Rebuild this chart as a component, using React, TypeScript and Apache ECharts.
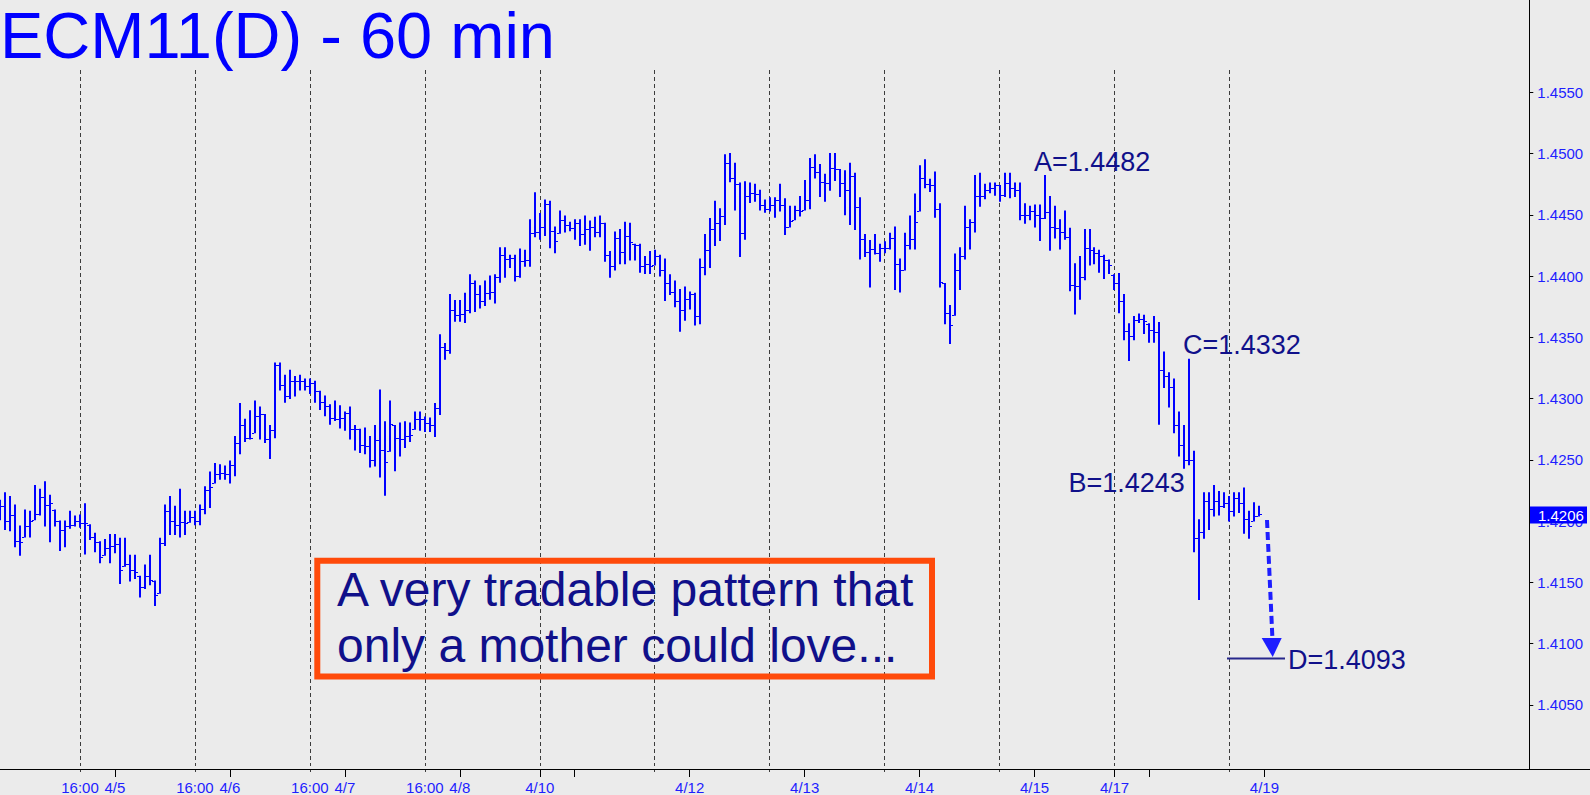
import React, { useEffect, useRef } from "react";
import * as echarts from "echarts";

// ---- data (hourly OHLC bars, ECM11 60 min) ----
const opens = [
  1.4210, 1.4212, 1.4200, 1.4205, 1.4184, 1.4187, 1.4196, 1.4201, 1.4206, 1.4220,
  1.4213, 1.4209, 1.4200, 1.4193, 1.4196, 1.4197, 1.4200, 1.4198, 1.4197, 1.4187,
  1.4183, 1.4172, 1.4178, 1.4180, 1.4181, 1.4163, 1.4165, 1.4160, 1.4155, 1.4146,
  1.4155, 1.4151, 1.4141, 1.4182, 1.4208, 1.4200, 1.4197, 1.4199, 1.4199, 1.4203,
  1.4200, 1.4210, 1.4225, 1.4231, 1.4238, 1.4239, 1.4238, 1.4246, 1.4264, 1.4278,
  1.4268, 1.4272, 1.4286, 1.4287, 1.4267, 1.4274, 1.4327, 1.4311, 1.4302, 1.4314,
  1.4314, 1.4314, 1.4310, 1.4313, 1.4306, 1.4297, 1.4294, 1.4284, 1.4283, 1.4284,
  1.4288, 1.4275, 1.4275, 1.4262, 1.4261, 1.4250, 1.4266, 1.4258, 1.4257, 1.4278,
  1.4268, 1.4267, 1.4269, 1.4275, 1.4283, 1.4283, 1.4280, 1.4278, 1.4292, 1.4342,
  1.4340, 1.4372, 1.4368, 1.4369, 1.4372, 1.4394, 1.4385, 1.4380, 1.4386, 1.4387,
  1.4399, 1.4417, 1.4414, 1.4415, 1.4400, 1.4412, 1.4413, 1.4435, 1.4436, 1.4440,
  1.4459, 1.4437, 1.4435, 1.4446, 1.4442, 1.4439, 1.4443, 1.4434, 1.4438, 1.4440,
  1.4436, 1.4443, 1.4417, 1.4408, 1.4431, 1.4420, 1.4433, 1.4426, 1.4425, 1.4408,
  1.4410, 1.4409, 1.4416, 1.4405, 1.4394, 1.4387, 1.4380, 1.4372, 1.4381, 1.4385,
  1.4367, 1.4407, 1.4421, 1.4438, 1.4443, 1.4449, 1.4492, 1.4480, 1.4475, 1.4435,
  1.4465, 1.4468, 1.4467, 1.4458, 1.4455, 1.4458, 1.4462, 1.4458, 1.4440, 1.4446,
  1.4454, 1.4454, 1.4462, 1.4489, 1.4485, 1.4477, 1.4476, 1.4488, 1.4487, 1.4476,
  1.4470, 1.4482, 1.4456, 1.4430, 1.4420, 1.4422, 1.4419, 1.4423, 1.4423, 1.4431,
  1.4410, 1.4405, 1.4425, 1.4430, 1.4453, 1.4480, 1.4475, 1.4474, 1.4455, 1.4394,
  1.4370, 1.4368, 1.4405, 1.4416, 1.4440, 1.4444, 1.4465, 1.4465, 1.4470, 1.4472,
  1.4474, 1.4466, 1.4476, 1.4472, 1.4470, 1.4450, 1.4450, 1.4453, 1.4450, 1.4447,
  1.4452, 1.4440, 1.4439, 1.4436, 1.4432, 1.4393, 1.4392, 1.4399, 1.4423, 1.4421,
  1.4419, 1.4416, 1.4413, 1.4401, 1.4394, 1.4380, 1.4355, 1.4351, 1.4364, 1.4365,
  1.4361, 1.4356, 1.4354, 1.4323, 1.4318, 1.4309, 1.4278, 1.4262, 1.4250, 1.4250,
  1.4186, 1.4191, 1.4216, 1.4210, 1.4216, 1.4212, 1.4215, 1.4208, 1.4219, 1.4215,
  1.4202, 1.4200, 1.4204,
];
const highs = [
  1.4217, 1.4223, 1.4220, 1.4213, 1.4196, 1.4209, 1.4208, 1.4229, 1.4226, 1.4232,
  1.4221, 1.4209, 1.4200, 1.4200, 1.4208, 1.4204, 1.4205, 1.4214, 1.4197, 1.4190,
  1.4183, 1.4185, 1.4189, 1.4189, 1.4186, 1.4186, 1.4172, 1.4172, 1.4155, 1.4164,
  1.4172, 1.4151, 1.4186, 1.4213, 1.4220, 1.4212, 1.4226, 1.4208, 1.4208, 1.4208,
  1.4213, 1.4228, 1.4240, 1.4247, 1.4246, 1.4245, 1.4249, 1.4269, 1.4296, 1.4283,
  1.4290, 1.4298, 1.4293, 1.4287, 1.4278, 1.4329, 1.4329, 1.4319, 1.4323, 1.4318,
  1.4319, 1.4316, 1.4316, 1.4314, 1.4306, 1.4302, 1.4295, 1.4298, 1.4294, 1.4289,
  1.4293, 1.4278, 1.4275, 1.4276, 1.4269, 1.4278, 1.4307, 1.4281, 1.4298, 1.4278,
  1.4280, 1.4281, 1.4280, 1.4289, 1.4289, 1.4285, 1.4284, 1.4296, 1.4352, 1.4345,
  1.4385, 1.4380, 1.4380, 1.4386, 1.4401, 1.4396, 1.4392, 1.4396, 1.4400, 1.4401,
  1.4423, 1.4423, 1.4417, 1.4417, 1.4422, 1.4421, 1.4446, 1.4468, 1.4451, 1.4462,
  1.4461, 1.4440, 1.4453, 1.4449, 1.4444, 1.4446, 1.4446, 1.4449, 1.4445, 1.4448,
  1.4449, 1.4443, 1.4420, 1.4436, 1.4438, 1.4444, 1.4443, 1.4426, 1.4426, 1.4416,
  1.4420, 1.4421, 1.4417, 1.4414, 1.4401, 1.4396, 1.4389, 1.4391, 1.4387, 1.4386,
  1.4414, 1.4434, 1.4447, 1.4461, 1.4455, 1.4499, 1.4500, 1.4492, 1.4476, 1.4477,
  1.4476, 1.4475, 1.4470, 1.4462, 1.4464, 1.4464, 1.4475, 1.4463, 1.4457, 1.4457,
  1.4465, 1.4478, 1.4496, 1.4499, 1.4491, 1.4483, 1.4500, 1.4500, 1.4487, 1.4486,
  1.4492, 1.4484, 1.4464, 1.4434, 1.4429, 1.4434, 1.4426, 1.4428, 1.4435, 1.4440,
  1.4414, 1.4435, 1.4449, 1.4467, 1.4490, 1.4495, 1.4479, 1.4485, 1.4459, 1.4394,
  1.4376, 1.4418, 1.4423, 1.4457, 1.4446, 1.4482, 1.4484, 1.4475, 1.4476, 1.4476,
  1.4474, 1.4484, 1.4484, 1.4476, 1.4476, 1.4459, 1.4457, 1.4458, 1.4458, 1.4482,
  1.4465, 1.4457, 1.4446, 1.4453, 1.4439, 1.4410, 1.4416, 1.4438, 1.4438, 1.4423,
  1.4421, 1.4417, 1.4413, 1.4401, 1.4402, 1.4385, 1.4361, 1.4367, 1.4369, 1.4368,
  1.4361, 1.4367, 1.4362, 1.4338, 1.4321, 1.4316, 1.4289, 1.4278, 1.4332, 1.4257,
  1.4201, 1.4223, 1.4223, 1.4229, 1.4224, 1.4223, 1.4220, 1.4223, 1.4223, 1.4227,
  1.4208, 1.4215, 1.4212,
];
const lows = [
  1.4201, 1.4193, 1.4192, 1.4179, 1.4172, 1.4187, 1.4187, 1.4201, 1.4205, 1.4196,
  1.4183, 1.4196, 1.4176, 1.4179, 1.4194, 1.4196, 1.4195, 1.4173, 1.4185, 1.4175,
  1.4166, 1.4172, 1.4166, 1.4174, 1.4149, 1.4163, 1.4151, 1.4153, 1.4138, 1.4145,
  1.4148, 1.4131, 1.4141, 1.4180, 1.4189, 1.4189, 1.4187, 1.4189, 1.4199, 1.4197,
  1.4197, 1.4206, 1.4211, 1.4231, 1.4234, 1.4234, 1.4231, 1.4237, 1.4255, 1.4265,
  1.4267, 1.4272, 1.4267, 1.4264, 1.4251, 1.4268, 1.4307, 1.4297, 1.4300, 1.4302,
  1.4307, 1.4307, 1.4304, 1.4297, 1.4291, 1.4286, 1.4279, 1.4282, 1.4276, 1.4274,
  1.4267, 1.4258, 1.4256, 1.4255, 1.4244, 1.4245, 1.4236, 1.4221, 1.4257, 1.4241,
  1.4253, 1.4260, 1.4265, 1.4275, 1.4274, 1.4273, 1.4273, 1.4269, 1.4287, 1.4332,
  1.4337, 1.4363, 1.4363, 1.4362, 1.4370, 1.4371, 1.4374, 1.4376, 1.4381, 1.4378,
  1.4395, 1.4399, 1.4407, 1.4396, 1.4399, 1.4408, 1.4408, 1.4432, 1.4430, 1.4433,
  1.4423, 1.4419, 1.4435, 1.4436, 1.4437, 1.4430, 1.4425, 1.4426, 1.4421, 1.4432,
  1.4432, 1.4412, 1.4399, 1.4405, 1.4410, 1.4410, 1.4413, 1.4413, 1.4403, 1.4402,
  1.4402, 1.4409, 1.4400, 1.4380, 1.4385, 1.4375, 1.4355, 1.4364, 1.4373, 1.4360,
  1.4361, 1.4401, 1.4407, 1.4425, 1.4429, 1.4442, 1.4477, 1.4454, 1.4416, 1.4430,
  1.4460, 1.4461, 1.4454, 1.4452, 1.4453, 1.4448, 1.4453, 1.4434, 1.4440, 1.4446,
  1.4449, 1.4454, 1.4455, 1.4480, 1.4465, 1.4461, 1.4470, 1.4478, 1.4465, 1.4450,
  1.4442, 1.4438, 1.4414, 1.4416, 1.4391, 1.4418, 1.4412, 1.4419, 1.4422, 1.4389,
  1.4387, 1.4405, 1.4422, 1.4422, 1.4453, 1.4472, 1.4469, 1.4448, 1.4391, 1.4361,
  1.4345, 1.4368, 1.4389, 1.4414, 1.4422, 1.4436, 1.4457, 1.4463, 1.4468, 1.4466,
  1.4461, 1.4465, 1.4464, 1.4465, 1.4446, 1.4443, 1.4446, 1.4440, 1.4429, 1.4447,
  1.4421, 1.4431, 1.4422, 1.4430, 1.4388, 1.4369, 1.4381, 1.4397, 1.4409, 1.4410,
  1.4403, 1.4398, 1.4402, 1.4389, 1.4370, 1.4348, 1.4331, 1.4348, 1.4362, 1.4353,
  1.4346, 1.4346, 1.4279, 1.4309, 1.4293, 1.4272, 1.4253, 1.4243, 1.4246, 1.4175,
  1.4136, 1.4186, 1.4193, 1.4204, 1.4205, 1.4211, 1.4200, 1.4204, 1.4207, 1.4190,
  1.4186, 1.4200, 1.4204,
];
const closes = [
  1.4212, 1.4200, 1.4205, 1.4184, 1.4183, 1.4196, 1.4200, 1.4206, 1.4220, 1.4213,
  1.4215, 1.4200, 1.4193, 1.4196, 1.4197, 1.4200, 1.4198, 1.4198, 1.4187, 1.4183,
  1.4171, 1.4178, 1.4180, 1.4181, 1.4160, 1.4165, 1.4160, 1.4158, 1.4146, 1.4155,
  1.4152, 1.4140, 1.4182, 1.4208, 1.4200, 1.4197, 1.4199, 1.4198, 1.4203, 1.4200,
  1.4210, 1.4225, 1.4228, 1.4238, 1.4239, 1.4238, 1.4246, 1.4264, 1.4278, 1.4268,
  1.4268, 1.4286, 1.4287, 1.4267, 1.4274, 1.4327, 1.4311, 1.4302, 1.4314, 1.4314,
  1.4314, 1.4310, 1.4313, 1.4306, 1.4297, 1.4294, 1.4284, 1.4283, 1.4284, 1.4288,
  1.4275, 1.4275, 1.4262, 1.4261, 1.4250, 1.4266, 1.4258, 1.4248, 1.4279, 1.4268,
  1.4267, 1.4269, 1.4270, 1.4283, 1.4283, 1.4280, 1.4278, 1.4292, 1.4342, 1.4340,
  1.4372, 1.4368, 1.4369, 1.4372, 1.4394, 1.4385, 1.4380, 1.4386, 1.4387, 1.4399,
  1.4417, 1.4414, 1.4415, 1.4400, 1.4412, 1.4413, 1.4435, 1.4436, 1.4440, 1.4459,
  1.4437, 1.4429, 1.4446, 1.4442, 1.4439, 1.4443, 1.4434, 1.4438, 1.4440, 1.4436,
  1.4443, 1.4417, 1.4408, 1.4431, 1.4420, 1.4433, 1.4428, 1.4425, 1.4408, 1.4410,
  1.4408, 1.4416, 1.4405, 1.4394, 1.4387, 1.4380, 1.4372, 1.4381, 1.4385, 1.4367,
  1.4407, 1.4421, 1.4438, 1.4443, 1.4449, 1.4492, 1.4480, 1.4475, 1.4435, 1.4465,
  1.4468, 1.4467, 1.4458, 1.4455, 1.4458, 1.4462, 1.4458, 1.4440, 1.4445, 1.4454,
  1.4453, 1.4462, 1.4489, 1.4485, 1.4477, 1.4476, 1.4488, 1.4487, 1.4476, 1.4470,
  1.4482, 1.4456, 1.4430, 1.4420, 1.4422, 1.4419, 1.4423, 1.4423, 1.4431, 1.4410,
  1.4405, 1.4425, 1.4430, 1.4444, 1.4480, 1.4475, 1.4474, 1.4455, 1.4395, 1.4370,
  1.4360, 1.4405, 1.4416, 1.4440, 1.4444, 1.4465, 1.4465, 1.4470, 1.4472, 1.4474,
  1.4466, 1.4476, 1.4472, 1.4470, 1.4450, 1.4450, 1.4453, 1.4450, 1.4447, 1.4452,
  1.4440, 1.4439, 1.4436, 1.4432, 1.4393, 1.4392, 1.4399, 1.4423, 1.4421, 1.4419,
  1.4416, 1.4413, 1.4409, 1.4394, 1.4380, 1.4355, 1.4351, 1.4364, 1.4365, 1.4363,
  1.4356, 1.4354, 1.4323, 1.4318, 1.4309, 1.4278, 1.4262, 1.4250, 1.4250, 1.4186,
  1.4191, 1.4216, 1.4210, 1.4216, 1.4212, 1.4215, 1.4208, 1.4219, 1.4215, 1.4202,
  1.4196, 1.4204, 1.4206,
];

// time axis: 307 hourly slots (last ones empty)
const SLOT_COUNT = 307;
const sessionIdx = [16, 39, 62, 85, 108, 131, 154, 177, 200, 223, 246];
const labelIdx = [16, 23, 39, 46, 62, 69, 85, 92, 108, 138, 161, 184, 207, 223, 253];
const labelText = ["16:00", "4/5", "16:00", "4/6", "16:00", "4/7", "16:00", "4/8", "4/10", "4/12", "4/13", "4/14", "4/15", "4/17", "4/19"];
const tickIdx = [23, 46, 69, 92, 108, 115, 138, 161, 184, 207, 223, 230, 253];
const shortTickIdx = [16, 39, 62, 85, 131, 154, 177, 200, 246];

const lastPrice = "1.4206";
const title = "ECM11(D) - 60 min";
const noteLines = ["A very tradable pattern that", "only a mother could love..."];
const pointLabels = ["A=1.4482", "B=1.4243", "C=1.4332", "D=1.4093"];

const FONT = '"Liberation Sans", Arial, Helvetica, sans-serif';
const BG = "#EBEBEB";
const BLUE = "#0000FF";
const NAVY = "#10108A";

export default function App() {
  const ref = useRef<HTMLDivElement>(null);

  useEffect(() => {
    if (!ref.current) return;
    const chart = echarts.init(ref.current, undefined, { renderer: "svg" });

    const cats = Array.from({ length: SLOT_COUNT }, (_, i) => "h" + i);
    const labelMap: Record<number, string> = {};
    labelIdx.forEach((idx, k) => (labelMap[idx] = labelText[k]));
    const data = opens.map((o, i) => [i, o, closes[i], lows[i], highs[i]]);

    const txt = (text: string, x: number, y: number, size: number, fill: string, z = 51) => ({
      type: "text", z, x, y,
      style: {
        text, font: `${size}px ${FONT}`, fill,
        align: "left", verticalAlign: "middle", textAlign: "left", textVerticalAlign: "middle",
      },
    });

    const option: any = {
      animation: false,
      backgroundColor: BG,
      grid: { left: 0, right: 60.7, top: 70, bottom: 28.73, containLabel: false },
      xAxis: [
        {
          type: "category",
          data: cats,
          boundaryGap: false,
          offset: 3,
          axisLine: { show: false },
          axisTick: {
            show: true,
            interval: (i: number) => tickIdx.includes(i),
            length: 8,
            lineStyle: { color: "#000", width: 1 },
          },
          axisLabel: {
            show: true,
            interval: (i: number) => labelMap[i] !== undefined,
            formatter: (_v: string, i: number) => labelMap[i] ?? "",
            color: "#1E1EFF",
            fontFamily: FONT,
            fontSize: 15,
            margin: 11,
          },
          splitLine: {
            show: true,
            interval: (i: number) => sessionIdx.includes(i),
            lineStyle: { color: "#3C3C3C", width: 1, type: [4, 3] },
          },
        },
        {
          type: "category",
          data: cats,
          boundaryGap: false,
          position: "bottom",
          offset: 3,
          axisLine: { show: false },
          axisTick: {
            show: true,
            interval: (i: number) => shortTickIdx.includes(i),
            length: 3,
            lineStyle: { color: "#3C3C3C", width: 1 },
          },
          axisLabel: { show: false },
          splitLine: { show: false },
        },
      ],
      yAxis: {
        type: "value",
        position: "right",
        min: 1.4,
        max: 1.45682,
        interval: 0.005,
        scale: true,
        axisLine: { show: false },
        axisTick: { show: true, length: 4, lineStyle: { color: "#000" } },
        splitLine: { show: false },
        axisLabel: {
          showMinLabel: false,
          showMaxLabel: false,
          margin: 8,
          color: "#1E1EFF",
          fontFamily: FONT,
          fontSize: 15,
          formatter: (v: number) => v.toFixed(4),
        },
      },
      series: [
        {
          type: "custom",
          xAxisIndex: 0,
          yAxisIndex: 0,
          encode: { x: 0, y: [1, 2, 3, 4] },
          data,
          clip: false,
          renderItem: (_p: any, api: any) => {
            const i = api.value(0);
            const o = api.coord([i, api.value(1)]);
            const c = api.coord([i, api.value(2)]);
            const l = api.coord([i, api.value(3)]);
            const h = api.coord([i, api.value(4)]);
            const cx = Math.round(h[0]);
            return {
              type: "group",
              children: [
                {
                  type: "line",
                  shape: { x1: cx, y1: h[1] - 0.5, x2: cx, y2: l[1] + 0.5 },
                  style: { stroke: BLUE, lineWidth: 2 },
                },
                {
                  type: "line",
                  shape: { x1: cx - 3, y1: Math.round(o[1]) + 0.5, x2: cx - 1, y2: Math.round(o[1]) + 0.5 },
                  style: { stroke: BLUE, lineWidth: 1 },
                },
                {
                  type: "line",
                  shape: { x1: cx + 1, y1: Math.round(c[1]) + 0.5, x2: cx + 3, y2: Math.round(c[1]) + 0.5 },
                  style: { stroke: BLUE, lineWidth: 1 },
                },
              ],
            };
          },
        },
      ],
      graphic: [
        // axis lines
        { type: "line", z: 50, shape: { x1: 1529.5, y1: 0, x2: 1529.5, y2: 769.5 }, style: { stroke: "#000", lineWidth: 1 } },
        { type: "line", z: 50, shape: { x1: 0, y1: 769.5, x2: 1590, y2: 769.5 }, style: { stroke: "#000", lineWidth: 1 } },
        // title
        txt(title, 0, 35, 65, BLUE, 50),
        // last price box
        { type: "rect", z: 60, shape: { x: 1530, y: 506.5, width: 57, height: 17 }, style: { fill: BLUE } },
        txt(lastPrice, 1538, 515, 15, "#FFFFFF", 61),
        // note box
        { type: "rect", z: 50, shape: { x: 317.3, y: 560.7, width: 614.7, height: 115.8 }, style: { fill: "none", stroke: "#FF4A0A", lineWidth: 6 } },
        txt(noteLines[0], 337, 589, 48, NAVY),
        txt(noteLines[1], 337, 645.5, 48, NAVY),
        // ABCD labels
        txt(pointLabels[0], 1034, 162, 27, NAVY),
        txt(pointLabels[1], 1068.5, 482.5, 27, NAVY),
        txt(pointLabels[2], 1183, 344.5, 27, NAVY),
        txt(pointLabels[3], 1288, 660, 27, NAVY),
        // D level line
        { type: "line", z: 51, shape: { x1: 1227, y1: 658.5, x2: 1285, y2: 658.5 }, style: { stroke: "#28288C", lineWidth: 2 } },
        // projected move arrow
        {
          type: "line", z: 52, shape: { x1: 1267, y1: 520, x2: 1272.5, y2: 640 },
          style: { stroke: "#1E1EFF", lineWidth: 4, lineDash: [8, 4] },
        },
        {
          type: "polygon", z: 52, shape: { points: [[1261.7, 638], [1281.7, 638], [1272.7, 657]] },
          style: { fill: "#1E1EFF" },
        },
      ],
    };

    chart.setOption(option);
    return () => chart.dispose();
  }, []);

  return (
    <div
      ref={ref}
      style={{ position: "absolute", left: 0, top: 0, width: 1590, height: 795 }}
    />
  );
}
